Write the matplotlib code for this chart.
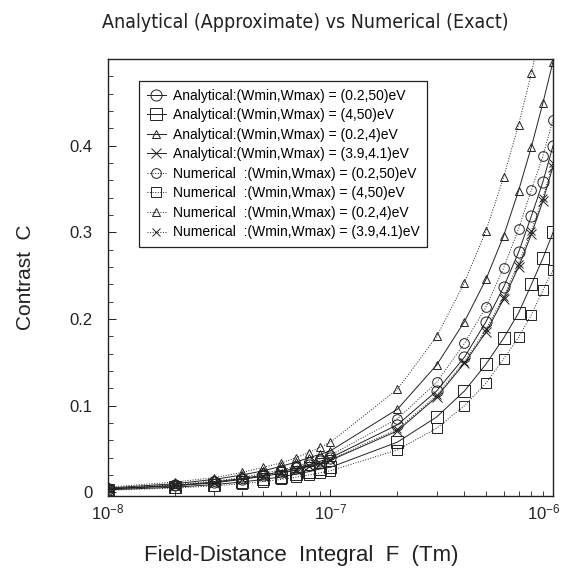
import math
import matplotlib
matplotlib.use("Agg")
import matplotlib.pyplot as plt
from matplotlib.ticker import FixedLocator, MultipleLocator, NullFormatter, FuncFormatter
from matplotlib.transforms import ScaledTranslation

F = [1e-8, 2e-8, 3e-8, 4e-8, 5e-8, 6e-8, 7e-8, 8e-8, 9e-8,
     1e-7, 2e-7, 3e-7, 4e-7, 5e-7, 6e-7, 7e-7, 8e-7, 9e-7, 1e-6]

ana_02_50 = [0.004, 0.008, 0.012, 0.016, 0.020, 0.024, 0.028, 0.032, 0.036,
             0.040, 0.078, 0.117, 0.156, 0.197, 0.237, 0.277, 0.319, 0.358, 0.400]
ana_4_50 = [0.003, 0.006, 0.009, 0.012, 0.015, 0.018, 0.021, 0.024, 0.027,
            0.029, 0.058, 0.087, 0.117, 0.148, 0.178, 0.207, 0.240, 0.270, 0.300]
ana_02_4 = [0.005, 0.010, 0.015, 0.020, 0.025, 0.030, 0.035, 0.040, 0.044,
            0.048, 0.096, 0.147, 0.197, 0.246, 0.296, 0.348, 0.399, 0.449, 0.497]
ana_39_41 = [0.004, 0.0075, 0.011, 0.015, 0.0185, 0.022, 0.026, 0.030, 0.033,
             0.037, 0.071, 0.110, 0.149, 0.185, 0.223, 0.260, 0.298, 0.336, 0.376]
num_02_50 = [0.0045, 0.009, 0.013, 0.017, 0.022, 0.026, 0.030, 0.035, 0.039,
             0.043, 0.085, 0.127, 0.172, 0.214, 0.259, 0.304, 0.349, 0.388, 0.430]
num_4_50 = [0.0025, 0.005, 0.0075, 0.010, 0.0125, 0.015, 0.0175, 0.020, 0.0225,
            0.025, 0.049, 0.074, 0.100, 0.126, 0.154, 0.179, 0.205, 0.233, 0.257]
num_02_4 = [0.006, 0.012, 0.017, 0.023, 0.029, 0.034, 0.040, 0.046, 0.052,
            0.058, 0.119, 0.180, 0.242, 0.302, 0.364, 0.424, 0.484, 0.545, 0.605]
num_39_41 = [0.004, 0.008, 0.0115, 0.0155, 0.019, 0.023, 0.027, 0.031, 0.034,
             0.038, 0.073, 0.112, 0.151, 0.188, 0.226, 0.264, 0.302, 0.340, 0.380]

labels = [
    "Analytical:(Wmin,Wmax) = (0.2,50)eV",
    "Analytical:(Wmin,Wmax) = (4,50)eV",
    "Analytical:(Wmin,Wmax) = (0.2,4)eV",
    "Analytical:(Wmin,Wmax) = (3.9,4.1)eV",
    "Numerical  :(Wmin,Wmax) = (0.2,50)eV",
    "Numerical  :(Wmin,Wmax) = (4,50)eV",
    "Numerical  :(Wmin,Wmax) = (0.2,4)eV",
    "Numerical  :(Wmin,Wmax) = (3.9,4.1)eV",
]
series = [ana_02_50, ana_4_50, ana_02_4, ana_39_41,
          num_02_50, num_4_50, num_02_4, num_39_41]
markers = ["o", "s", "^", "x", "o", "s", "^", "x"]
msizes = [8, 8, 5.5, 7, 7, 7, 5.5, 6]
styles = ["-", "-", "-", "-", ":", ":", ":", ":"]

plt.rcParams['font.family'] = ['Liberation Sans', 'DejaVu Sans']
plt.rcParams['mathtext.fontset'] = 'custom'
plt.rcParams['mathtext.rm'] = 'Liberation Sans'
plt.rcParams['mathtext.it'] = 'Liberation Sans'

fig = plt.figure(figsize=(5.62, 5.68), dpi=100)
ax = fig.add_axes([0.192, 0.127, 0.792, 0.769])

col = "#222222"
for y, lab, m, ms, ls in zip(series, labels, markers, msizes, styles):
    ax.plot(F, y, linestyle=ls, marker=m, markersize=ms, color=col,
            mfc='none', mec=col, mew=0.7, lw=0.7, label=lab)

ax.set_xscale('log')
ax.set_xlim(1e-8, 1e-6)
ax.set_ylim(-0.004, 0.5)

ax.xaxis.set_major_locator(FixedLocator([1e-8, 1e-7, 1e-6]))
ax.xaxis.set_major_formatter(FuncFormatter(
    lambda v, p: r"$\mathregular{10^{%d}}$" % round(math.log10(v))))
ax.xaxis.set_minor_locator(FixedLocator(
    [k * 10.0 ** e for e in (-8, -7) for k in range(2, 10)]))
ax.xaxis.set_minor_formatter(NullFormatter())

ax.yaxis.set_major_locator(FixedLocator([0, 0.1, 0.2, 0.3, 0.4]))
ax.yaxis.set_major_formatter(FuncFormatter(lambda v, p: "0" if abs(v) < 1e-9 else "%.1f" % v))
ax.yaxis.set_minor_locator(MultipleLocator(0.02))

ax.tick_params(which='both', direction='in', top=False, right=False, colors=col)
ax.tick_params(axis='y', which='major', length=6, width=0.7, pad=11, labelsize=12)
ax.tick_params(axis='y', which='minor', length=3.5, width=0.6)
ax.tick_params(axis='x', which='major', length=5, width=0.7, pad=5, labelsize=12)
ax.tick_params(axis='x', which='minor', length=3.5, width=0.6)
for s in ax.spines.values():
    s.set_linewidth(1.0)
    s.set_color(col)

ax.set_ylabel("Contrast  C", fontsize=15, labelpad=25, color=col)
ax.set_xlabel("Field-Distance  Integral  F  (Tm)", fontsize=16, labelpad=16, color=col)
ax.xaxis.label.set_x(0.434)
fig.text(0.543, 0.96, "Analytical (Approximate) vs Numerical (Exact)",
         ha='center', va='center', fontsize=14, stretch='condensed',
         family=['DejaVu Sans'], color=col)

leg = ax.legend(loc='upper left', bbox_to_anchor=(0.07, 0.95), fontsize=10,
                frameon=True, fancybox=False, framealpha=1, edgecolor=col,
                handlelength=1.4, handletextpad=0.5, labelspacing=0.4,
                borderpad=0.55, borderaxespad=0)
leg.get_frame().set_linewidth(0.9)

fig.canvas.draw()
last = ax.get_xticklabels()[-1]
last.set_transform(last.get_transform() + ScaledTranslation(-0.09, 0, fig.dpi_scale_trans))

fig.savefig("out.png", dpi=100)
